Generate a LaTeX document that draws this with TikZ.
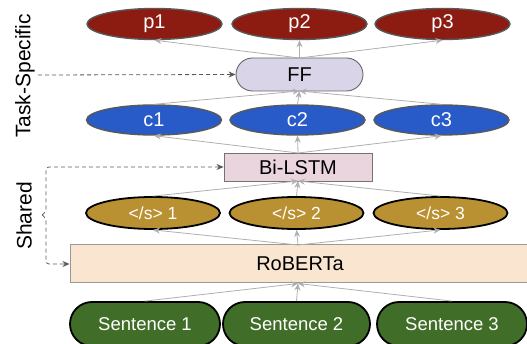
\documentclass[tikz,border=0pt]{standalone}
\usepackage{fontspec}
\setmainfont{Liberation Sans}
\usetikzlibrary{shapes.geometric,shapes.misc,arrows.meta}
\definecolor{pred}{RGB}{140,27,18}
\definecolor{cblue}{RGB}{40,90,200}
\definecolor{ffcol}{RGB}{217,212,232}
\definecolor{lstmcol}{RGB}{234,212,222}
\definecolor{sgold}{RGB}{185,145,50}
\definecolor{robcol}{RGB}{250,230,208}
\definecolor{sgreen}{RGB}{64,110,40}
\definecolor{arrgray}{RGB}{175,175,175}
\definecolor{dashgray}{RGB}{90,90,90}
\tikzset{
  nodefont/.style={font=\fontsize{20}{24}\selectfont},
  pell/.style={ellipse, inner sep=0pt, minimum width=135pt, minimum height=31pt, fill=pred, draw=black!65, line width=1.4pt, text=white, nodefont},
  cell/.style={ellipse, inner sep=0pt, minimum width=135pt, minimum height=30pt, fill=cblue, draw=black!65, line width=1.4pt, text=white, nodefont},
  sell/.style={ellipse, inner sep=0pt, minimum width=134pt, minimum height=32pt, fill=sgold, draw=black, line width=1.8pt, text=white, font=\fontsize{17.5}{21}\selectfont},
  ffbox/.style={rounded rectangle, inner sep=0pt, minimum width=127pt, minimum height=33pt, fill=ffcol, draw=black!60, line width=0.9pt, nodefont},
  lstmbox/.style={rectangle, inner sep=0pt, minimum width=148pt, minimum height=28pt, fill=lstmcol, draw=black!55, line width=0.9pt, nodefont},
  robbox/.style={rectangle, inner sep=0pt, minimum width=460pt, minimum height=38pt, fill=robcol, draw=black!40, line width=1pt, nodefont},
  sentbox/.style={rounded rectangle, inner sep=0pt, minimum width=150pt, minimum height=44pt, fill=sgreen, draw=black, line width=1.8pt, text=white, font=\fontsize{18.5}{22}\selectfont},
  flow/.style={draw=arrgray, line width=0.8pt, -{Stealth[length=7pt,width=6pt]}},
  dasharrow/.style={draw=dashgray, line width=0.8pt, dash pattern=on 4pt off 3pt, -{Stealth[length=7pt,width=6pt]}},
  sidelabel/.style={rotate=90, font=\fontsize{21}{25}\selectfont}
}
\begin{document}
\begin{tikzpicture}[x=1pt,y=-1pt]
\useasboundingbox (0,0) rectangle (527,344);
% nodes
\node[sentbox] (s1) at (145,324) {Sentence 1};
\node[sentbox, minimum width=147pt] (s2) at (296.5,324) {Sentence 2};
\node[sentbox] (s3) at (452,324) {Sentence 3};
\node[robbox] (rob) at (300,264) {RoBERTa};
\node[sell] (e1) at (153,213) {</s> 1};
\node[sell] (e2) at (296.5,213) {</s> 2};
\node[sell] (e3) at (440.5,213) {</s> 3};
\node[lstmbox] (lstm) at (298,167) {Bi-LSTM};
\node[cell] (c1) at (154,120) {c1};
\node[cell] (c2) at (297.5,120) {c2};
\node[cell] (c3) at (441.5,120) {c3};
\node[ffbox] (ff) at (299.5,74.5) {FF};
\node[pell] (p1) at (154.5,24) {p1};
\node[pell] (p2) at (299.5,24) {p2};
\node[pell] (p3) at (442.5,24) {p3};
\node[sidelabel] (lt) at (25,76) {Task-Specific};
\node[sidelabel] (ls) at (24,216) {Shared};
% flow arrows
\coordinate (robin) at (298,283.5);
\coordinate (robout) at (298,245);
\coordinate (lstmin) at (298,181);
\coordinate (lstmout) at (298,153);
\coordinate (ffin) at (299.5,91);
\coordinate (ffout) at (299.5,58);
\foreach \n in {s1,s2,s3} \draw[flow] (\n.north) -- (robin);
\foreach \n in {e1,e2,e3} \draw[flow] (robout) -- (\n.south);
\foreach \n in {e1,e2,e3} \draw[flow] (\n.north) -- (lstmin);
\foreach \n in {c1,c2,c3} \draw[flow] (lstmout) -- (\n.south);
\foreach \n in {c1,c2,c3} \draw[flow] (\n.north) -- (ffin);
\foreach \n in {p1,p2,p3} \draw[flow] (ffout) -- (\n.south);
% dashed arrows
\coordinate (tstart) at (38,75);
\draw[dasharrow] (tstart) -- (ff.west);
\coordinate (brace) at (42,215);
\draw[dasharrow, rounded corners=3pt] (brace) -- ++(4,-3) |- (lstm.west);
\draw[dasharrow, rounded corners=3pt] (brace) -- ++(4,3) |- (rob.west);
\end{tikzpicture}
\end{document}
